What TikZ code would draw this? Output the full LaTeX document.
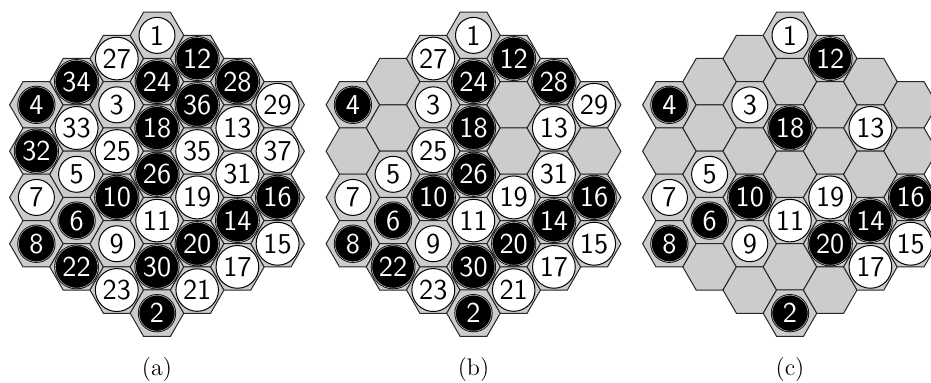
\documentclass[tikz,border=0pt]{standalone}
\usepackage{tikz}
\usetikzlibrary{shapes}

\begin{document}
\begin{tikzpicture}[x=1pt,y=1pt]
\tikzset{cell/.style = {shape=regular polygon,regular polygon sides=6,minimum size=26.8pt,inner sep=0pt,outer sep=0pt,draw=black!85,fill=black!20,line width=.5pt}}
\tikzset{stone/.style = {shape=circle,font=\sffamily\Large,inner sep=1.5pt,minimum size=18pt}}
\tikzset{bstone/.style = {stone,fill=black,draw=black,double=white!70!black,double distance=.3pt,line width=.4pt,text=white}}
\tikzset{wstone/.style = {stone,fill=white,draw=black,line width=.5pt,text=black}}

\useasboundingbox (0,0) rectangle (465.5,-191.5);

\foreach \b/\bx/\lim in {a/78.5/37,b/236.75/31,c/395/20}{
  % cells
  \foreach \q/\r/\m in {-3/0/4,-3/1/32,-3/2/7,-3/3/8,
      -2/-1/34,-2/0/33,-2/1/5,-2/2/6,-2/3/22,
      -1/-2/27,-1/-1/3,-1/0/25,-1/1/10,-1/2/9,-1/3/23,
      0/-3/1,0/-2/24,0/-1/18,0/0/26,0/1/11,0/2/30,0/3/2,
      1/-3/12,1/-2/36,1/-1/35,1/0/19,1/1/20,1/2/21,
      2/-3/28,2/-2/13,2/-1/31,2/0/14,2/1/17,
      3/-3/29,3/-2/37,3/-1/16,3/0/15}
    \node[cell] (\b-\m) at ({\bx+20.1*\q},{-87.15-23.15*(\r+\q/2)}) {};
  % stones
  \foreach \m in {1,...,\lim}{
    \ifodd\m
      \node[wstone] (s\b-\m) at (\b-\m) {\m};
    \else
      \node[bstone] (s\b-\m) at (\b-\m) {\m};
    \fi
  }
  \node[font=\large,anchor=base] (cap-\b) at (\bx,-188) {(\b)};
}

\end{tikzpicture}
\end{document}
